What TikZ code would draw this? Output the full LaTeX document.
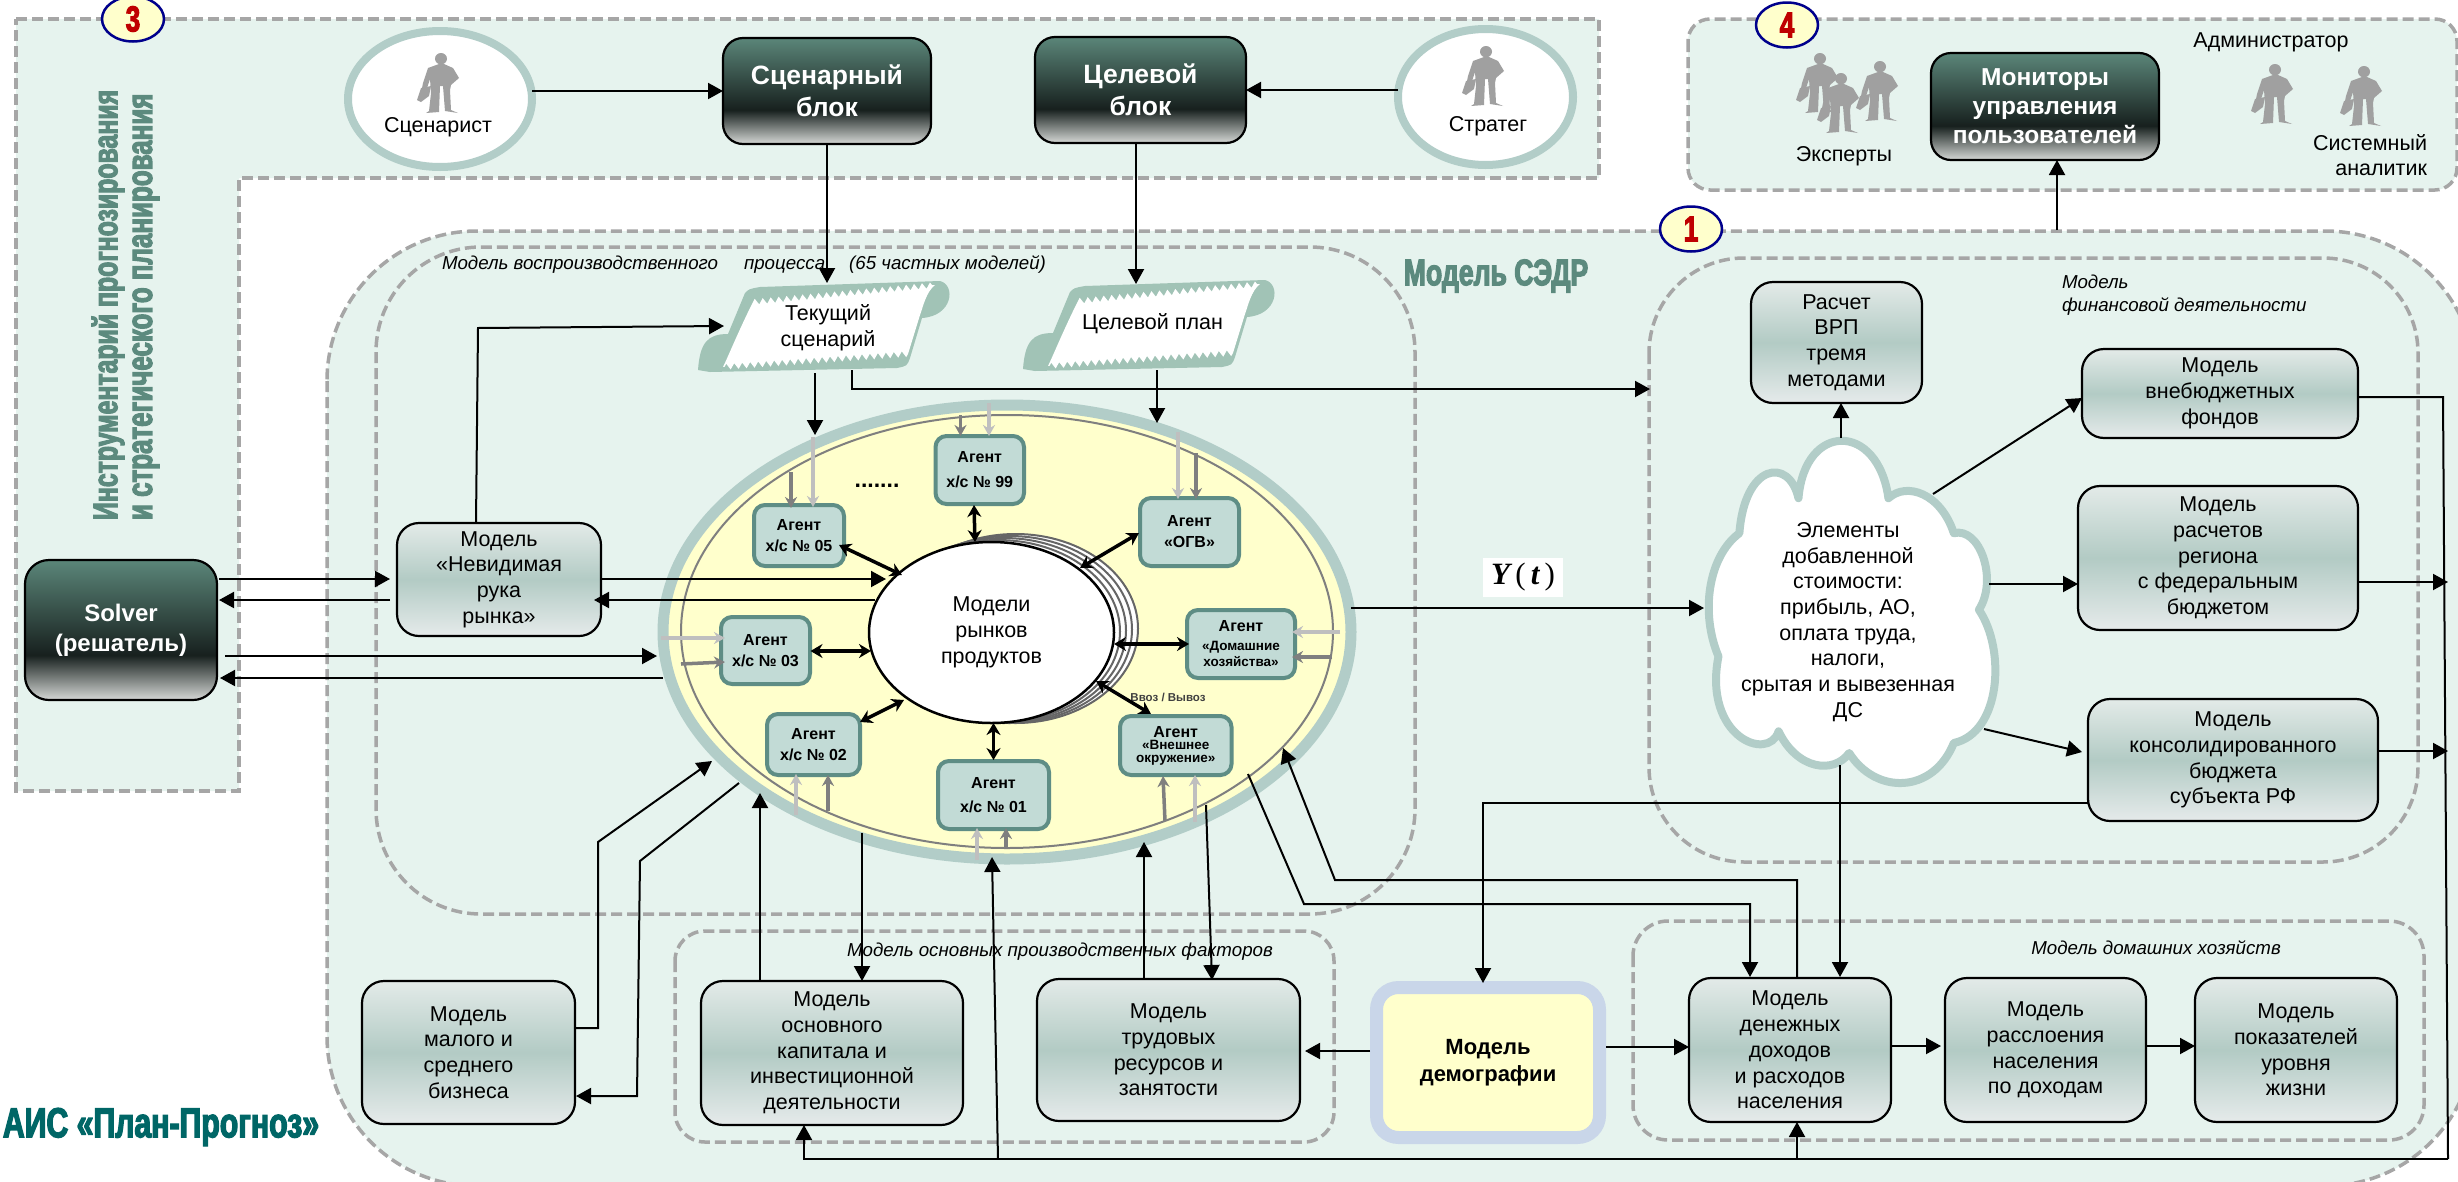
\documentclass[tikz,border=0pt]{standalone}
\usepackage{fontspec}
\setmainfont{Liberation Sans}
\newfontfamily\heavy[UprightFont={* Bold},FakeStretch=0.72,FakeBold=3]{Liberation Sans}
\newfontfamily\ytf[UprightFont={*},ItalicFont={* Bold Italic}]{Liberation Serif}
\usetikzlibrary{arrows.meta,calc,shapes.geometric,decorations.pathmorphing}
\definecolor{zone}{HTML}{E6F3EE}
\definecolor{dashc}{HTML}{A6A6A6}
\definecolor{ring}{HTML}{B2CDC8}
\definecolor{pale}{HTML}{FFFFCC}
\definecolor{agf}{HTML}{C2DBD6}
\definecolor{agb}{HTML}{5E8D85}
\definecolor{title}{HTML}{5C8A7E}
\definecolor{ais}{HTML}{006666}
\definecolor{scrl}{HTML}{A1C3B6}
\definecolor{demo}{HTML}{C9D6E9}
\definecolor{pers}{HTML}{A0A0A0}
\definecolor{gl}{HTML}{BFBFBF}
\definecolor{gd}{HTML}{7F7F7F}
\pgfdeclareverticalshading{lbshade}{100bp}{rgb(0bp)=(0.90,0.92,0.92);rgb(25bp)=(0.90,0.92,0.92);rgb(50bp)=(0.70,0.795,0.77);rgb(75bp)=(0.89,0.92,0.91);rgb(100bp)=(0.89,0.92,0.91)}
\pgfdeclareverticalshading{dkshade}{100bp}{rgb(0bp)=(0.84,0.85,0.84);rgb(25bp)=(0.84,0.85,0.84);rgb(41bp)=(0.09,0.125,0.117);rgb(75bp)=(0.357,0.525,0.475);rgb(100bp)=(0.357,0.525,0.475)}
\newcommand{\mkbox}[7]{%
  \pgfmathsetmacro{\bxw}{#5-#3}\pgfmathsetmacro{\bxh}{#6-#4}%
  \pgfmathsetmacro{\bxx}{(#3+#5)/2}\pgfmathsetmacro{\bxy}{(#4+#6)/2}%
  \node[#1,minimum width=\bxw pt,minimum height=\bxh pt] (#2) at (\bxx,\bxy) {#7};}
\tikzset{
  base/.style={inner sep=0pt,outer sep=0pt,align=center},
  lbox/.style={base,rectangle,rounded corners=22pt,draw=black,line width=2.2pt,shading=lbshade,
     font=\fontsize{21.5}{25.7}\selectfont,execute at begin node={\rule{0pt}{25pt}}},
  dbox/.style={base,rectangle,rounded corners=20pt,draw=black,line width=2.2pt,shading=dkshade,
     text=white,font=\fontsize{24.5}{29}\selectfont\bfseries},
  agent/.style={base,rectangle,rounded corners=11pt,draw=agb,line width=4pt,fill=agf,
     font=\fontsize{16}{21}\selectfont\bfseries},
  lbl/.style={base,font=\fontsize{21.5}{25.7}\selectfont},
  ital/.style={base,font=\fontsize{18.7}{23}\selectfont\itshape},
  impact/.style={base,text=title,font=\heavy},
  dz/.style={draw=dashc,line width=3.5pt,dash pattern=on 11pt off 5pt},
  badge/.style={base,ellipse,draw=blue!55!black,line width=2.5pt,fill=pale,minimum width=62pt,minimum height=45pt,
     text=red!75!black,font=\heavy\fontsize{36}{36}\selectfont},
  man/.style={base,ellipse,draw=ring,line width=8pt,fill=white},
  arr/.style={draw=black,line width=2pt,-{Triangle[length=15pt,width=16pt]}},
  con/.style={draw=black,line width=2pt},
  dbl/.style={draw=black,line width=3.5pt,{Stealth[length=12pt,width=14pt]}-{Stealth[length=12pt,width=14pt]}},
  lta/.style={draw=gl,line width=3.5pt,-{Stealth[length=11pt,width=12pt]}},
  dka/.style={draw=gd,line width=3.5pt,-{Stealth[length=11pt,width=12pt]}},
  person/.pic={
    \fill[pers] (0,5.7) ellipse (6pt and 5.7pt);
    \fill[pers] (-2,11) -- (-13,15) -- (-18,30) -- (-19,35) -- (-14,35) -- (-11,26) -- (-10,40) -- (-12,58) -- (-15,60)
       -- (-2,59) -- (-1,33) -- (2,33) -- (4,58) -- (17,60) -- (10,57) -- (9,37) -- (10,32) -- (18,25) -- (12,15) -- (3,11) -- cycle;
    \fill[pers] (-24,47) -- (-20,35) -- (-10,33) -- (-12,43) -- (-20,49) -- cycle;
  },
  scrollshape/.pic={
    \fill[scrl] (0,88) .. controls (2,60) and (10,52) .. (30,52) -- (47,11) .. controls (51,7) .. (62,5) -- (242,-1)
       .. controls (258,3) and (255,34) .. (224,36) -- (212,76) .. controls (209,84) .. (199,86) -- (12,90) -- cycle;
    \fill[white,decoration={zigzag,segment length=8pt,amplitude=3pt}] (55,20) decorate {-- (237,3)}
       .. controls (228,10) and (225,25) .. (222,33) -- (210,72) decorate {-- (25,85)}
       .. controls (30,75) and (40,50) .. (55,20) -- cycle;
  }
}
\begin{document}
\begin{tikzpicture}[x=1pt,y=-1pt]
\useasboundingbox (0,0) rectangle (2458,1181);
\clip (0,0) rectangle (2458,1181);
% zones
\draw[dz,fill=zone] (16,19) -- (1599,19) -- (1599,178) -- (239,178) -- (239,791) -- (16,791) -- cycle;
\draw[dz,fill=zone,rounded corners=150pt] (327,231) rectangle (2475,1186);
\draw[dz,fill=zone,rounded corners=22pt] (1688,19) rectangle (2457,190);
\draw[dz,rounded corners=105pt] (376,247) rectangle (1415,914);
\draw[dz,rounded corners=95pt] (1649,258) rectangle (2418,862);
\draw[dz,rounded corners=30pt] (675,931) rectangle (1334,1142);
\draw[dz,rounded corners=35pt] (1633,921) rectangle (2424,1140);
% titles
\node[impact,rotate=90,anchor=west,font=\heavy\fontsize{34.5}{35}\selectfont] (tA) at (108,520) {Инструментарий прогнозирования};
\node[impact,rotate=90,anchor=west,font=\heavy\fontsize{36}{36}\selectfont] (tB) at (146,520) {и стратегического планирования};
\node[impact,font=\heavy\fontsize{37}{37}\selectfont] (tC) at (1496,276) {Модель СЭДР};
\node[impact,text=ais,font=\heavy\fontsize{42}{42}\selectfont] (tD) at (161,1127) {АИС «План-Прогноз»};
\node[impact,font=\heavy\fontsize{30}{30}\selectfont] (tE) at (1077,470) {Агенты};
% italic labels
\node[ital,anchor=west] (l1) at (442,265) {Модель воспроизводственного\hspace{26pt}процесса\hspace{24pt}(65 частных моделей)};
\node[ital,anchor=west,align=left] (l2) at (2062,295) {Модель\\финансовой деятельности};
\node[ital] (l3) at (1060,952) {Модель основных производственных факторов};
\node[ital] (l4) at (2156,948) {Модель домашних хозяйств};
% people
\mkbox{man}{scen}{348}{31}{532}{167}{}
\mkbox{man}{strat}{1398}{29}{1573}{165}{}
\pic at (441,53) {person};
\pic at (1486,46) {person};
\pic at (1820,53) {person};
\pic at (1880,61) {person};
\pic at (1841,73) {person};
\pic at (2275,64) {person};
\pic at (2364,66) {person};
\node[lbl] (tScen) at (438,127) {Сценарист};
\node[lbl] (tStrat) at (1488,126) {Стратег};
\node[lbl] (tExp) at (1844,156) {Эксперты};
\node[lbl] (tAdm) at (2271,42) {Администратор};
\node[lbl,align=right,anchor=east] (tSys) at (2427,155) {Системный\\аналитик};
% dark blocks
\mkbox{dbox,font=\fontsize{26.5}{32}\selectfont\bfseries}{blkS}{723}{38}{931}{144}{Сценарный\\блок}
\mkbox{dbox,font=\fontsize{26.5}{32}\selectfont\bfseries}{blkT}{1035}{37}{1246}{143}{Целевой\\блок}
\mkbox{dbox}{blkM}{1931}{53}{2159}{160}{Мониторы\\управления\\пользователей}
\mkbox{dbox,rounded corners=24pt,font=\fontsize{24}{30}\selectfont\bfseries}{blkV}{25}{560}{217}{700}{Solver\\(решатель)}
% scrolls
\pic at (698,282) {scrollshape};
\pic at (1023,281) {scrollshape};
\mkbox{lbl}{scrA}{731}{283}{925}{373}{Текущий\\сценарий}
\mkbox{lbl}{scrB}{1055}{284}{1250}{370}{\raisebox{11pt}{Целевой план}}
% big ellipse
\mkbox{base,ellipse,draw=ring,line width=11pt,fill=pale}{bigE}{663}{405}{1351}{859}{}
\mkbox{base,ellipse,draw=gd,line width=2pt}{midE}{681}{415}{1333}{848}{}
\mkbox{base,ellipse,draw=gd!80!black,line width=2pt,fill=white}{ring1}{893}{534}{1138}{723}{}
\mkbox{base,ellipse,draw=gd!80!black,line width=2pt,fill=white}{ring2}{887}{536}{1132}{723}{}
\mkbox{base,ellipse,draw=gd!80!black,line width=2pt,fill=white}{ring3}{881}{538}{1126}{723}{}
\mkbox{base,ellipse,draw=gd!80!black,line width=2pt,fill=white}{ring4}{875}{540}{1120}{723}{}
\mkbox{lbl,ellipse,draw=black,line width=2.5pt,fill=white,execute at begin node={\rule{0pt}{23pt}}}{core}{869}{542}{1114}{723}{Модели\\рынков\\продуктов}
% agents
\mkbox{agent}{a05}{754}{505}{844}{566}{Агент\\х/с № 05}
\mkbox{agent,font=\fontsize{16}{25}\selectfont\bfseries}{a99}{935.5}{436}{1024}{504}{Агент\\х/с № 99}
\mkbox{agent}{aO}{1140}{498}{1239}{566}{Агент\\«ОГВ»}
\mkbox{agent,font=\fontsize{13.5}{16}\selectfont\bfseries}{aD}{1187}{610}{1295}{678}{{\fontsize{16}{21}\selectfont Агент}\\[3pt]«Домашние\\хозяйства»}
\mkbox{agent,font=\fontsize{13.5}{12.5}\selectfont\bfseries}{aW}{1120}{716}{1231.5}{775}{{\fontsize{16}{21}\selectfont Агент}\\«Внешнее\\окружение»}
\mkbox{agent,font=\fontsize{16}{24}\selectfont\bfseries}{a01}{938}{761}{1049}{829}{Агент\\х/с № 01}
\mkbox{agent}{a02}{767}{714}{860}{775}{Агент\\х/с № 02}
\mkbox{agent}{a03}{721}{617}{810}{684}{Агент\\х/с № 03}
\node[base,font=\fontsize{23}{23}\selectfont\bfseries] (dots) at (877,486) {.......};
\node[base,text=black!75,font=\fontsize{11.5}{12}\selectfont\bfseries] (tVv) at (1168,697) {Ввоз / Вывоз};
% light boxes
\mkbox{lbox}{nNev}{397}{523}{601}{636}{Модель\\«Невидимая\\рука\\рынка»}
\mkbox{lbox}{nVRP}{1751}{282}{1922}{403}{Расчет\\ВРП\\тремя\\методами}
\mkbox{lbox}{nVne}{2082}{349}{2358}{438}{Модель\\внебюджетных\\фондов}
\mkbox{lbox}{nRas}{2078}{486}{2358}{630}{Модель\\расчетов\\региона\\с федеральным\\бюджетом}
\mkbox{lbox}{nKon}{2088}{699}{2378}{821}{Модель\\консолидированного\\бюджета\\субъекта РФ}
\mkbox{lbox}{nMal}{362}{981}{575}{1124}{Модель\\малого и\\среднего\\бизнеса}
\mkbox{lbox}{nOsn}{701}{981}{963}{1125}{Модель\\основного\\капитала и\\инвестиционной\\деятельности}
\mkbox{lbox}{nTru}{1037}{979}{1300}{1121}{Модель\\трудовых\\ресурсов и\\занятости}
\mkbox{lbox}{nDen}{1689}{978}{1891}{1122}{Модель\\денежных\\доходов\\и расходов\\населения}
\mkbox{lbox}{nSlo}{1945}{978}{2146}{1122}{Модель\\расслоения\\населения\\по доходам}
\mkbox{lbox}{nPok}{2195}{978}{2397}{1122}{Модель\\показателей\\уровня\\жизни}
\mkbox{base,rectangle,rounded corners=22pt,draw=demo,line width=13pt,fill=pale,font=\fontsize{22}{26.5}\selectfont\bfseries}{nDem}{1376.5}{987.5}{1599.5}{1137.5}{Модель\\демографии}
% cloud
\begin{scope}[shift={(1640,400)},x=.523pt,y=-.333pt]
\draw[draw=ring,line width=8pt,fill=white,line join=round]
  (303,295) .. controls (315,65) and (455,65) .. (475,295)
  .. controls (510,245) and (575,280) .. (600,400)
  .. controls (650,380) and (685,540) .. (648,630)
  .. controls (700,750) and (690,1000) .. (600,1030)
  .. controls (560,1185) and (450,1185) .. (400,1060)
  .. controls (370,1125) and (300,1110) .. (265,995)
  .. controls (245,1090) and (120,1010) .. (150,770)
  .. controls (115,640) and (130,470) .. (190,400)
  .. controls (200,190) and (285,170) .. (303,295) -- cycle;
\end{scope}
\node[lbl] (cloud) at (1848,622) {Элементы\\добавленной\\стоимости:\\прибыль, АО,\\оплата труда,\\налоги,\\срытая и вывезенная\\ДС};
% Y(t)
\mkbox{base,fill=white,font=\ytf\fontsize{31}{31}\selectfont}{ybox}{1483}{558}{1563}{597}{{\itshape Y\,}(\,{\itshape t}\,)}
% free ends
\foreach \n/\x/\y in {
 cA/1136/143, cB/1136/284, cC/476/523, cD/478/328, cE/724/326,
 cF/815/373, cG/815/435, cH/852/370, cI/852/389, cJ/1650/389,
 cK/1157/370, cL/1157/423,
 cSa/219/579, cSb/390/579, cSc/390/600, cSd/219/600,
 cNa/601/579, cNb/886/579, cNc/875/600, cNd/594/600,
 cSe/225/656, cSf/657/656, cSg/663/678, cSh/220/678,
 cMa/598/1028, cMb/598/842, cMc/712/761, cMd/739/783, cMe/640/861, cMf/637/1096, cMg/576/1096,
 cOa/760/981, cOb/760/793, cOc/862/833, cOd/862/981,
 cTa/1144/979, cTb/1144/842, cTc/1206/805, cTd/1212/980,
 cBa/804/1159, cBb/804/1125, cBc/2448/1159, cBd/2443/397, cBe/998/1159, cBf/992/857, cBg/1797/1159, cBh/1797/1122,
 cRa/2448/397, cRb/2358/397, cRc/2358/582, cRd/2448/582, cRe/2378/751, cRf/2448/751,
 cYa/1351/608, cYb/1704/608,
 cCa/1841/438, cCb/1841/403, cCc/1933/494, cCd/2082/398, cCe/1989/584, cCf/2078/584, cCg/1984/729, cCh/2082/752, cCi/1840/765, cCj/1840/977,
 cKa/2088/803, cKb/1483/803, cKc/1483/983,
 cDa/1248/774, cDb/1304/904, cDc/1750/904, cDd/1750/977, cDe/1797/978, cDf/1797/880, cDg/1335/880, cDh/1283/748,
 cGa/1370/1051, cGb/1305/1051, cGc/1606/1047, cGd/1689/1047, cGe/1891/1046, cGf/1941/1046, cGg/2146/1046, cGh/2195/1046,
 cQa/2057/230, cQb/2057/160,
 cXa/839/545, cXb/902/575, cXc/974/505, cXd/975/542, cXe/1139/533, cXf/1080/568, cXg/1189/644, cXh/1114/644,
 cXi/1151/714, cXj/1096/681, cXk/993.5/760, cXl/993.5/723, cXm/860/722, cXn/904/700, cXo/810.5/651, cXp/871/651,
 gA/791/472, gB/791/508, gC/813/437, gD/813/507, gE/960.5/415, gF/960.5/436, gG/989/403, gH/989/436,
 gI/1178/432, gJ/1178/499, gK/1196/453, gL/1196/499, gM/1340/632, gN/1292/632, gO/1332/657, gP/1292/657,
 gQ/1165/821, gR/1163/776, gS/1195/822, gT/1195/775, gU/977/860, gV/977/828, gW/1006/847, gX/1006/828,
 gY/796/815, gZ/796/774, hA/828/811, hB/828/775, hC/661/638, hD/725/638, hE/681/664, hF/725/662%
 }{\coordinate (\n) at (\x,\y);}
% grey arrows
\draw[dka] (gA) -- (gB);  \draw[lta] (gC) -- (gD);
\draw[dka] (gE) -- (gF);  \draw[lta] (gG) -- (gH);
\draw[lta] (gI) -- (gJ);  \draw[dka] (gK) -- (gL);
\draw[lta] (gM) -- (gN);  \draw[dka] (gO) -- (gP);
\draw[dka] (gQ) -- (gR);  \draw[lta] (gS) -- (gT);
\draw[lta] (gU) -- (gV);  \draw[dka] (gW) -- (gX);
\draw[lta] (gY) -- (gZ);  \draw[dka] (hA) -- (hB);
\draw[lta] (hC) -- (hD);  \draw[dka] (hE) -- (hF);
% double arrows
\draw[dbl] (cXa) -- (cXb);
\draw[dbl] (cXc) -- (cXd);
\draw[dbl] (cXe) -- (cXf);
\draw[dbl] (cXg) -- (cXh);
\draw[dbl] (cXi) -- (cXj);
\draw[dbl] (cXk) -- (cXl);
\draw[dbl] (cXm) -- (cXn);
\draw[dbl] (cXo) -- (cXp);
% connectors
\draw[arr] (scen.east |- blkS.west) -- (blkS.west);
\draw[arr] (strat.west |- blkT.east) -- (blkT.east);
\draw[arr] (blkS.south) -- (blkS.south |- scrA.north);
\draw[arr] (cA) -- (cB);
\draw[arr] (cC) -- (cD) -- (cE);
\draw[arr] (cF) -- (cG);
\draw[arr] (cH) -- (cI) -- (cJ);
\draw[arr] (cK) -- (cL);
\draw[arr] (cSa) -- (cSb);
\draw[arr] (cSc) -- (cSd);
\draw[arr] (cNa) -- (cNb);
\draw[arr] (cNc) -- (cNd);
\draw[arr] (cSe) -- (cSf);
\draw[arr] (cSg) -- (cSh);
\draw[arr] (cMa -| nMal.east) -- (cMa) -- (cMb) -- (cMc);
\draw[arr] (cMd) -- (cMe) -- (cMf) -- (cMg);
\draw[arr] (cOa) -- (cOb);
\draw[arr] (cOc) -- (cOd);
\draw[arr] (cTa) -- (cTb);
\draw[arr] (cTc) -- (cTd);
\draw[arr] (cBc) -- (cBa) -- (cBb);
\draw[con] (cRb) -- (cBd) -- (cBc);
\draw[arr] (cBe) -- (cBf);
\draw[arr] (cBg) -- (cBh);
\draw[arr] (cRc) -- (cRd);
\draw[arr] (cRe) -- (cRf);
\draw[arr] (cYa) -- (cYb);
\draw[arr] (cCa) -- (cCb);
\draw[arr] (cCc) -- (cCd);
\draw[arr] (cCe) -- (cCf);
\draw[arr] (cCg) -- (cCh);
\draw[arr] (cCi) -- (cCj);
\draw[arr] (cKa) -- (cKb) -- (cKc);
\draw[arr] (cDa) -- (cDb) -- (cDc) -- (cDd);
\draw[arr] (cDe) -- (cDf) -- (cDg) -- (cDh);
\draw[arr] (cGa) -- (cGb);
\draw[arr] (cGc) -- (cGd);
\draw[arr] (cGe) -- (cGf);
\draw[arr] (cGg) -- (cGh);
\draw[arr] (cQa) -- (cQb);
% badges
\node[badge] (b3) at (133,19) {3};
\node[badge] (b4) at (1787,25) {4};
\node[badge] (b1) at (1691,229) {1};
\end{tikzpicture}
\end{document}
